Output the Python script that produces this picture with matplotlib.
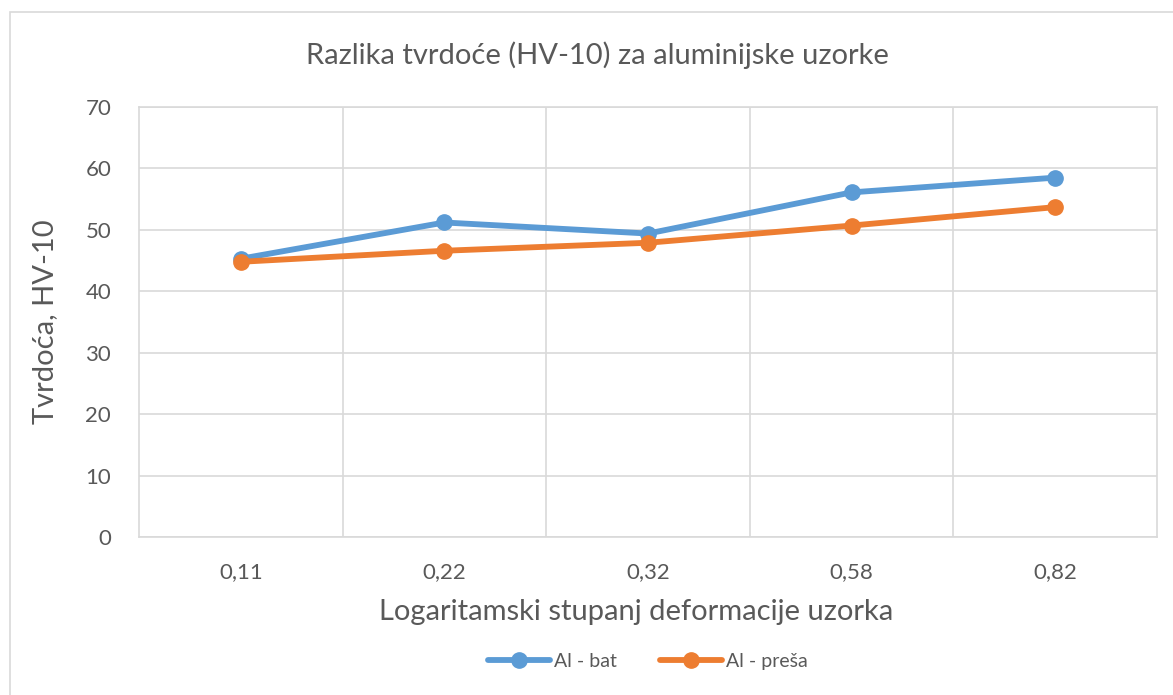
import matplotlib.pyplot as plt
from matplotlib.patches import Rectangle

# data
categories = ["0,11", "0,22", "0,32", "0,58", "0,82"]
al_bat = [45.3, 51.2, 49.4, 56.1, 58.5]
al_presa = [44.8, 46.6, 47.9, 50.7, 53.7]
y_ticks = [0, 10, 20, 30, 40, 50, 60, 70]

plt.rcParams['font.family'] = ['Lato', 'DejaVu Sans']
text_color = "#595959"
grid_color = "#d9d9d9"

fig = plt.figure(figsize=(11.73, 6.95), dpi=100)
# outer chart border
fig.patches.append(Rectangle((10 / 1173, -0.1), 1.2, 1 - 12 / 695 + 0.1,
                             transform=fig.transFigure, fill=False,
                             edgecolor=grid_color, linewidth=1.2))

ax = fig.add_axes([139 / 1173, 1 - 537 / 695, (1157 - 139) / 1173, 430 / 695])
x = list(range(len(categories)))
ax.plot(x, al_bat, color="#5B9BD5", linewidth=4.2, marker="o", markersize=11,
        label="Al - bat", solid_capstyle="round", zorder=3)
ax.plot(x, al_presa, color="#ED7D31", linewidth=4.2, marker="o", markersize=11,
        label="Al - preša", solid_capstyle="round", zorder=3)

ax.set_xlim(-0.5, len(categories) - 0.5)
ax.set_ylim(0, 70)
ax.set_yticks(y_ticks)
ax.set_xticks(x)
ax.set_xticklabels(categories)
ax.set_xticks([i + 0.5 for i in range(len(categories) - 1)], minor=True)

ax.grid(axis="y", which="major", color=grid_color, linewidth=1.2)
ax.grid(axis="x", which="minor", color=grid_color, linewidth=1.2)
ax.set_axisbelow(True)
for s in ax.spines.values():
    s.set_color(grid_color)
    s.set_linewidth(1.2)

ax.tick_params(axis="both", which="both", length=0, labelsize=16, colors=text_color)
ax.tick_params(axis="y", pad=20)
ax.tick_params(axis="x", pad=18)

# title is centred on the whole chart area, not the plot area
fig.text(597 / 1173, 1 - 55 / 695, "Razlika tvrdoće (HV-10) za aluminijske uzorke",
         fontsize=21, color=text_color, ha="center", va="center")
ax.set_xlabel("Logaritamski stupanj deformacije uzorka", fontsize=21,
              color=text_color)
ax.xaxis.set_label_coords((636 - 139) / 1018, (537 - 612) / 430)
ax.xaxis.label.set_va("center")
ax.set_ylabel("Tvrdoća, HV-10", fontsize=21, color=text_color, labelpad=20)

ax.legend(loc="center", bbox_to_anchor=(0.5, -0.29), ncol=2, frameon=False,
          fontsize=14, labelcolor=text_color, handlelength=3.2,
          columnspacing=2.2, handletextpad=0.2)

fig.savefig("out.png", dpi=100)
